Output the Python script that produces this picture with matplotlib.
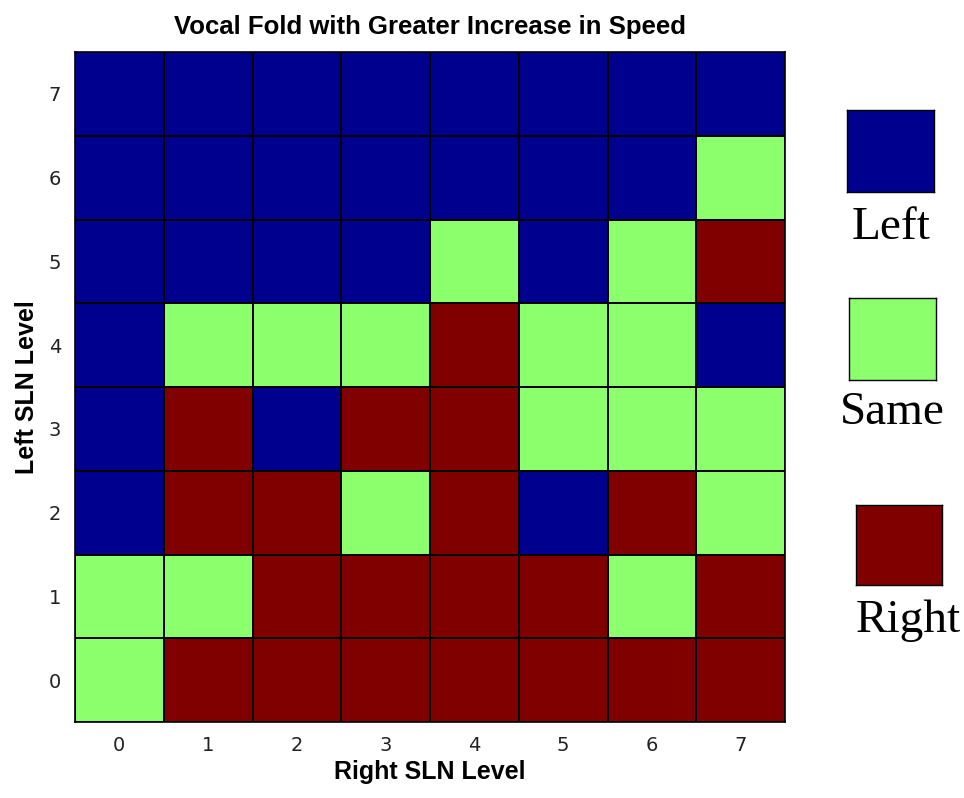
import matplotlib
matplotlib.use("Agg")
import matplotlib.pyplot as plt
import numpy as np
from matplotlib.colors import ListedColormap, BoundaryNorm

right_levels = [0, 1, 2, 3, 4, 5, 6, 7]
left_levels = [0, 1, 2, 3, 4, 5, 6, 7]
categories = ["Left", "Same", "Right"]
cat_colors = ["#00008F", "#8CFF6C", "#800000"]

# rows: Left SLN level 0..7 (bottom to top); columns: Right SLN level 0..7
# 0 = Left, 1 = Same, 2 = Right
row_0 = [1, 2, 2, 2, 2, 2, 2, 2]
row_1 = [1, 1, 2, 2, 2, 2, 1, 2]
row_2 = [0, 2, 2, 1, 2, 0, 2, 1]
row_3 = [0, 2, 0, 2, 2, 1, 1, 1]
row_4 = [0, 1, 1, 1, 2, 1, 1, 0]
row_5 = [0, 0, 0, 0, 1, 0, 1, 2]
row_6 = [0, 0, 0, 0, 0, 0, 0, 1]
row_7 = [0, 0, 0, 0, 0, 0, 0, 0]

grid = np.array([row_0, row_1, row_2, row_3, row_4, row_5, row_6, row_7])

W, H = 964, 798
fig = plt.figure(figsize=(W / 100, H / 100), dpi=100)
ax = fig.add_axes([75 / W, 1 - 722 / H, (785 - 75) / W, (722 - 52) / H])

cmap = ListedColormap(cat_colors)
norm = BoundaryNorm([-0.5, 0.5, 1.5, 2.5], cmap.N)
xe = np.arange(len(right_levels) + 1) - 0.5
ye = np.arange(len(left_levels) + 1) - 0.5
ax.pcolormesh(xe, ye, grid, cmap=cmap, norm=norm, edgecolors="black", linewidth=1.2)
ax.set_xlim(xe[0], xe[-1])
ax.set_ylim(ye[0], ye[-1])
ax.set_xticks(range(len(right_levels)))
ax.set_xticklabels([str(v) for v in right_levels])
ax.set_yticks(range(len(left_levels)))
ax.set_yticklabels([str(v) for v in left_levels])
ax.tick_params(length=0, labelsize=14, colors="#222222", pad=10)
for s in ax.spines.values():
    s.set_linewidth(1.2)

ax.set_title("Vocal Fold with Greater Increase in Speed", fontsize=18.5,
             fontweight="bold", family="Liberation Sans", pad=13)
ax.set_xlabel("Right SLN Level", fontsize=18, fontweight="bold",
              family="Liberation Sans", labelpad=4)
ax.set_ylabel("Left SLN Level", fontsize=18, fontweight="bold",
              family="Liberation Sans", labelpad=7)

# legend squares
sq_boxes = [(847, 110, 87, 82), (849, 298, 87, 82), (856, 505, 86, 80)]
label_xy = [(891, 228), (892, 413), (908, 621)]
for (x0, y0, w, h), col, lab, (lx, ly) in zip(sq_boxes, cat_colors, categories, label_xy):
    lax = fig.add_axes([x0 / W, 1 - (y0 + h) / H, w / W, h / H])
    lax.set_facecolor(col)
    lax.set_xticks([])
    lax.set_yticks([])
    for s in lax.spines.values():
        s.set_linewidth(1.0)
    fig.text(lx / W, 1 - ly / H, lab, ha="center", va="center",
             fontsize=34, family="Liberation Serif")

fig.savefig("out.png", dpi=100)
